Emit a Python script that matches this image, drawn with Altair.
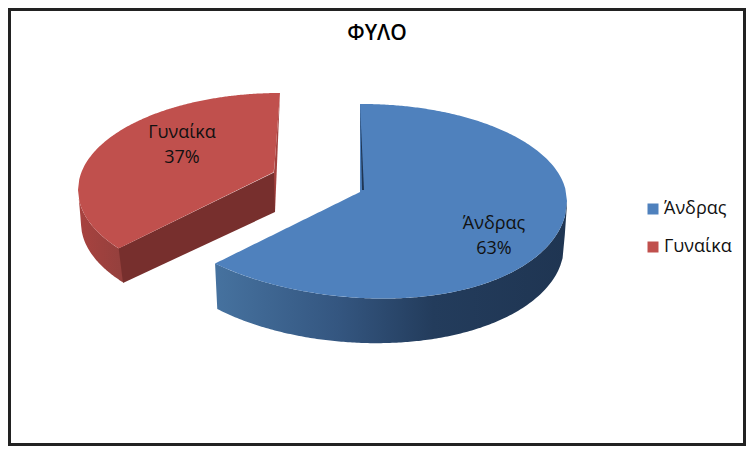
import numpy as np
import pandas as pd
import altair as alt

categories = ["Άνδρας", "Γυναίκα"]
values = [63, 37]
title_text = "ΦΥΛΟ"

FONT = "Open Sans"
BLUE, RED = "#4f81bd", "#c0504d"


def ell(x, cx, rx, cy, ry, sign, k=0.0):
    r = np.clip((np.asarray(x) - cx) / rx, -1, 1)
    q = np.sqrt(1 - r * r)
    return cy + sign * ry * q + k * (np.asarray(x) - cx) * q


def line(x, x0, y0, x1, y1):
    return y0 + (np.asarray(x) - x0) * (y1 - y0) / (x1 - x0)


# angle (clockwise from 12 o'clock) at which the first slice ends
turn = np.radians(360 * values[0] / sum(values))

# ---------- large slice ----------
cx, rx, cy, ry, kt = 362.0, 205.0, 201.0, 97.0, 0.05
bx, brx, by, bry, kb = 364.0, 200.0, 246.0, 97.0, 0.03
ax, ay = 364.0, 190.0  # apex of the slice in perspective
tip_x = cx + rx * np.sin(turn) + 2.5
tip_y = float(ell(tip_x, cx, rx, cy, ry, 1, kt))
btip_x = bx + brx * np.sin(turn) - 1
btip_y = float(ell(btip_x, bx, brx, by, bry, 1, kb))

xa = np.concatenate([np.linspace(tip_x, 360, 60), np.linspace(360.01, cx + rx, 120)])
blue_top = pd.DataFrame({
    "x": xa,
    "y": np.where(xa <= 360, line(xa, tip_x, tip_y, ax, ay), ell(xa, cx, rx, cy, ry, -1)),
    "y2": ell(xa, cx, rx, cy, ry, 1, kt),
    "part": categories[0],
})
xw = np.linspace(tip_x, cx + rx, 160)
wall_low = ell(xw, bx, brx, by, bry, 1, kb)
wall_low = np.where(xw < btip_x, line(xw, tip_x, tip_y, btip_x, btip_y), wall_low)
wall_low = np.where(xw > bx + brx, line(xw, cx + rx, cy + 3, bx + brx, by), wall_low)
blue_wall = pd.DataFrame({"x": xw, "y": ell(xw, cx, rx, cy, ry, 1, kt), "y2": wall_low})
blue_inner = pd.DataFrame({
    "x": [360.0, 362.0, ax],
    "y": [105.0, 147.5, ay],
    "y2": [105.0, ay, ay],
})

# ---------- small slice (pulled out) ----------
rcx, rrx, rcy, rry = 280.0, 202.0, 190.0, 97.0
rbx, rbrx, rby, rbry = 282.0, 201.0, 223.0, 97.0
rax, ray = 274.0, 172.0
persp = np.radians(6.2)
fx = rcx + rrx * np.sin(turn + persp)
fy = rcy - rry * np.cos(turn + persp)
xr = np.linspace(rcx - rrx, rcx, 160)
low = np.where(xr < fx, ell(xr, rcx, rrx, rcy, rry, 1), line(xr, fx, fy, rax, ray))
low = np.where(xr > rax, line(xr, rax, ray, rcx, rcy - rry), low)
red_top = pd.DataFrame({"x": xr, "y": ell(xr, rcx, rrx, rcy, rry, -1), "y2": low, "part": categories[1]})

xo = np.linspace(rcx - rrx, 123.0, 60)
red_low = ell(xo, rbx, rbrx, rby, rbry, 1)
red_low = np.where(xo < rbx - rbrx, line(xo, rcx - rrx, rcy, rbx - rbrx, rby), red_low)
red_outer = pd.DataFrame({
    "x": xo,
    "y": np.where(xo < fx, ell(xo, rcx, rrx, rcy, rry, 1), line(xo, fx, fy, rax, ray)),
    "y2": red_low,
})
red_front = pd.DataFrame({
    "x": [fx, 123.0, rax + 1],
    "y": [fy, line(123.0, fx, fy, rax, ray), ray],
    "y2": [fy, 283.0, 212.0],
})
red_edge = pd.DataFrame({
    "x": [rax, rax + 1, rcx],
    "y": [ray, line(rax + 1, rax, ray, rcx, rcy - rry), rcy - rry],
    "y2": [ray, 212.0, rcy - rry],
})

xs = alt.Scale(domain=[8, 746], range=[0, 738], nice=False, zero=False)
ys = alt.Scale(domain=[8, 446], range=[0, 438], nice=False, zero=False)


def area(df, fill):
    return alt.Chart(df).mark_area(fill=fill, stroke=None).encode(
        x=alt.X("x:Q", scale=xs, axis=None),
        y=alt.Y("y:Q", scale=ys, axis=None),
        y2="y2:Q",
    )


grad_blue = alt.Gradient(
    gradient="linear", x1=0, x2=1, y1=0, y2=0,
    stops=[
        alt.GradientStop(offset=0, color="#46729f"),
        alt.GradientStop(offset=0.35, color="#345680"),
        alt.GradientStop(offset=0.62, color="#233c5c"),
        alt.GradientStop(offset=1, color="#1f3552"),
    ],
)
grad_red = alt.Gradient(
    gradient="linear", x1=0, x2=1, y1=0, y2=0,
    stops=[
        alt.GradientStop(offset=0, color="#a8423f"),
        alt.GradientStop(offset=1, color="#94403d"),
    ],
)

tops = alt.Chart(pd.concat([blue_top, red_top])).mark_area(stroke=None).encode(
    x=alt.X("x:Q", scale=xs, axis=None),
    y=alt.Y("y:Q", scale=ys, axis=None),
    y2="y2:Q",
    color=alt.Color(
        "part:N",
        scale=alt.Scale(domain=categories, range=[BLUE, RED]),
        legend=alt.Legend(
            title=None, orient="none", legendX=636, legendY=192,
            symbolType="square", symbolSize=121, symbolStrokeWidth=0,
            labelFont=FONT, labelFontSize=18, labelColor="#111111",
            labelOffset=2, rowPadding=20,
        ),
    ),
)

labels = pd.DataFrame({
    "x": [494.0, 182.0],
    "y": [212.0, 121.0],
    "t": [[c, f"{v}%"] for c, v in zip(categories, values)],
})
text = alt.Chart(labels).mark_text(
    font=FONT, fontSize=18, color="#111111", align="center", baseline="middle", lineHeight=25, dy=12
).encode(
    x=alt.X("x:Q", scale=xs, axis=None),
    y=alt.Y("y:Q", scale=ys, axis=None),
    text="t:N",
)
title = alt.Chart(pd.DataFrame({"x": [377.0], "y": [34.0], "t": [title_text]})).mark_text(
    font=FONT, fontSize=21, fontWeight=600, color="#000000", align="center", baseline="middle"
).encode(
    x=alt.X("x:Q", scale=xs, axis=None),
    y=alt.Y("y:Q", scale=ys, axis=None),
    text="t:N",
)

chart = alt.layer(
    area(blue_wall, grad_blue),
    area(red_outer, grad_red),
    area(red_front, "#772f2d"),
    area(red_edge, "#a4423f"),
    tops,
    area(blue_inner, "#1f3552"),
    text,
    title,
).properties(
    width=738, height=438, padding=0, background="#ffffff",
    autosize=alt.AutoSizeParams(type="none"),
).configure_view(stroke="#222222", strokeWidth=6)

chart.save("out.html", embed_options={"renderer": "svg", "actions": False})
